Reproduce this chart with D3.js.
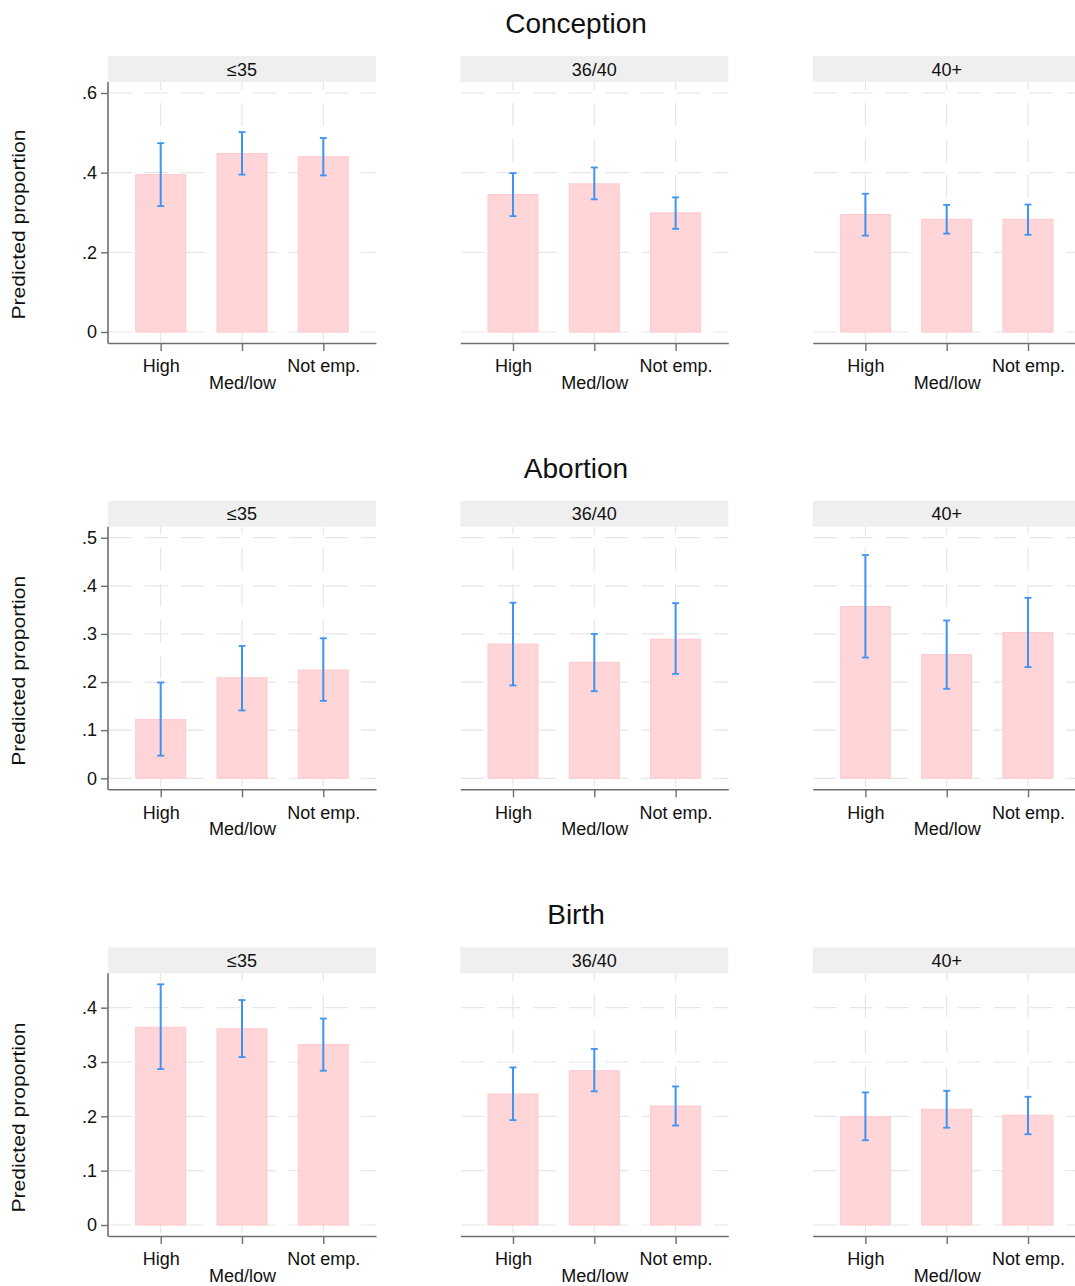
<!DOCTYPE html>
<html>
<head>
<meta charset="utf-8">
<script src="https://cdn.jsdelivr.net/npm/d3@7"></script>
<style>
  html, body { margin: 0; padding: 0; background: #fff; }
  svg { display: block; font-family: "Liberation Sans", Arial, sans-serif; }
</style>
</head>
<body>
<svg id="chart" width="1075" height="1286"></svg>
<script>
// ---------------- DATA ----------------
const outcomes = ["Conception", "Abortion", "Birth"];
const ageGroups = ["≤35", "36/40", "40+"];
const categories = ["High", "Med/low", "Not emp."];

// rows: age group panel, columns: category
const conceptionEst = [[0.395, 0.448, 0.440], [0.345, 0.372, 0.299], [0.295, 0.283, 0.283]];
const conceptionLo  = [[0.316, 0.395, 0.393], [0.291, 0.333, 0.259], [0.242, 0.247, 0.244]];
const conceptionHi  = [[0.474, 0.502, 0.487], [0.399, 0.413, 0.338], [0.347, 0.319, 0.320]];

const abortionEst = [[0.122, 0.209, 0.225], [0.279, 0.241, 0.289], [0.357, 0.257, 0.303]];
const abortionLo  = [[0.047, 0.141, 0.161], [0.193, 0.181, 0.217], [0.251, 0.186, 0.231]];
const abortionHi  = [[0.199, 0.275, 0.291], [0.365, 0.300, 0.364], [0.464, 0.328, 0.375]];

const birthEst = [[0.364, 0.361, 0.332], [0.241, 0.284, 0.219], [0.199, 0.213, 0.202]];
const birthLo  = [[0.287, 0.309, 0.284], [0.193, 0.246, 0.183], [0.156, 0.179, 0.167]];
const birthHi  = [[0.443, 0.414, 0.380], [0.290, 0.324, 0.255], [0.244, 0.247, 0.236]];

const conceptionTicks = [0, 0.2, 0.4, 0.6];
const abortionTicks = [0, 0.1, 0.2, 0.3, 0.4, 0.5];
const birthTicks = [0, 0.1, 0.2, 0.3, 0.4];

const yAxisTitle = "Predicted proportion";

// ---------------- LAYOUT ----------------
const rowData = [
  { est: conceptionEst, lo: conceptionLo, hi: conceptionHi, ticks: conceptionTicks },
  { est: abortionEst, lo: abortionLo, hi: abortionHi, ticks: abortionTicks },
  { est: birthEst, lo: birthLo, hi: birthHi, ticks: birthTicks }
];
const rowLayout = [
  { plotTop: 82, axisY: 343 },
  { plotTop: 526.7, axisY: 789.3 },
  { plotTop: 973.3, axisY: 1236 }
];
const colX = [108, 460.3, 812.7];
const panelW = 268;
const stripH = 26;
const innerMargin = 11;
const barW = 50;
const capW = 7;

const colors = {
  bar: "#ffd5d7",
  barStroke: "#ffc9cd",
  ci: "#3f93f2",
  grid: "#e6e6e6",
  axis: "#6e6e6e",
  strip: "#efefef",
  text: "#111"
};

const svg = d3.select("#chart");
const fmt = d => d === 0 ? "0" : d3.format(".1f")(d).replace(/^0/, "");

outcomes.forEach((outcome, r) => {
  const L = rowLayout[r];
  const D = rowData[r];
  const maxHi = d3.max(D.hi.flat());
  const yMax = Math.max(d3.max(D.ticks), maxHi);
  const y = d3.scaleLinear().domain([0, yMax]).range([L.axisY - innerMargin, L.plotTop + innerMargin]);
  const stripTop = L.plotTop - stripH;

  // row title
  svg.append("text")
    .attr("x", 576).attr("y", stripTop - 23)
    .attr("text-anchor", "middle")
    .attr("font-size", 28)
    .attr("fill", colors.text)
    .text(outcome);

  // y axis title
  const ty = L.axisY - 118.5;
  svg.append("text")
    .attr("transform", `translate(25,${ty}) rotate(-90)`)
    .attr("text-anchor", "middle")
    .attr("font-size", 18)
    .attr("fill", colors.text)
    .attr("textLength", 190)
    .attr("lengthAdjust", "spacingAndGlyphs")
    .text(yAxisTitle);

  ageGroups.forEach((age, c) => {
    const x0 = colX[c];
    const x = d3.scalePoint().domain(categories).range([x0, x0 + panelW]).padding(0.648);
    const g = svg.append("g");

    // strip
    g.append("rect")
      .attr("x", x0).attr("y", stripTop)
      .attr("width", panelW).attr("height", stripH)
      .attr("fill", colors.strip);
    g.append("text")
      .attr("x", x0 + panelW / 2).attr("y", stripTop + 19.5)
      .attr("text-anchor", "middle")
      .attr("font-size", 18)
      .attr("fill", colors.text)
      .text(age);

    // horizontal grid
    g.selectAll(".hgrid").data(D.ticks).join("line")
      .attr("x1", x0 + 1).attr("x2", x0 + panelW)
      .attr("y1", d => y(d)).attr("y2", d => y(d))
      .attr("stroke", colors.grid).attr("stroke-width", 1.2)
      .attr("stroke-dasharray", "23,13");
    // vertical grid
    g.selectAll(".vgrid").data(categories).join("line")
      .attr("x1", d => x(d)).attr("x2", d => x(d))
      .attr("y1", L.plotTop).attr("y2", L.axisY)
      .attr("stroke", colors.grid).attr("stroke-width", 1.2)
      .attr("stroke-dasharray", "23,13")
      .attr("stroke-dashoffset", 15);

    const items = categories.map((cat, k) => ({
      cat, est: D.est[c][k], lo: D.lo[c][k], hi: D.hi[c][k]
    }));

    // bars
    g.selectAll(".bar").data(items).join("rect")
      .attr("x", d => x(d.cat) - barW / 2)
      .attr("y", d => y(d.est))
      .attr("width", barW)
      .attr("height", d => y(0) - y(d.est))
      .attr("fill", colors.bar)
      .attr("stroke", colors.barStroke)
      .attr("stroke-width", 1);

    // CI
    const ci = g.selectAll(".ci").data(items).join("g");
    ci.append("line")
      .attr("x1", d => x(d.cat)).attr("x2", d => x(d.cat))
      .attr("y1", d => y(d.lo)).attr("y2", d => y(d.hi))
      .attr("stroke", colors.ci).attr("stroke-width", 2);
    ci.append("line")
      .attr("x1", d => x(d.cat) - capW / 2).attr("x2", d => x(d.cat) + capW / 2)
      .attr("y1", d => y(d.hi)).attr("y2", d => y(d.hi))
      .attr("stroke", colors.ci).attr("stroke-width", 1.8);
    ci.append("line")
      .attr("x1", d => x(d.cat) - capW / 2).attr("x2", d => x(d.cat) + capW / 2)
      .attr("y1", d => y(d.lo)).attr("y2", d => y(d.lo))
      .attr("stroke", colors.ci).attr("stroke-width", 1.8);

    // x axis
    const xa = g.append("g")
      .attr("transform", `translate(0,${L.axisY})`)
      .call(d3.axisBottom(x).tickSize(8).tickSizeOuter(0));
    xa.select(".domain").attr("stroke", colors.axis).attr("stroke-width", 1.6);
    xa.selectAll(".tick line").attr("stroke", colors.axis).attr("stroke-width", 1.4);
    xa.selectAll(".tick text")
      .attr("font-size", 18)
      .attr("font-family", "Liberation Sans, Arial, sans-serif")
      .attr("fill", colors.text)
      .attr("dy", 0)
      .attr("y", (d, i) => i === 1 ? 46 : 29.3);

    // y axis only on first column
    if (c === 0) {
      g.append("line")
        .attr("x1", x0).attr("x2", x0)
        .attr("y1", L.plotTop).attr("y2", L.axisY + 0.8)
        .attr("stroke", colors.axis).attr("stroke-width", 1.6);
      const ya = g.append("g")
        .attr("transform", `translate(${x0},0)`)
        .call(d3.axisLeft(y).tickValues(D.ticks).tickFormat(fmt).tickSize(7).tickPadding(4));
      ya.select(".domain").remove();
      ya.selectAll(".tick line").attr("stroke", colors.axis).attr("stroke-width", 1.4);
      ya.selectAll(".tick text")
        .attr("font-size", 18)
        .attr("font-family", "Liberation Sans, Arial, sans-serif")
        .attr("fill", colors.text);
    }
  });
});
</script>
</body>
</html>
